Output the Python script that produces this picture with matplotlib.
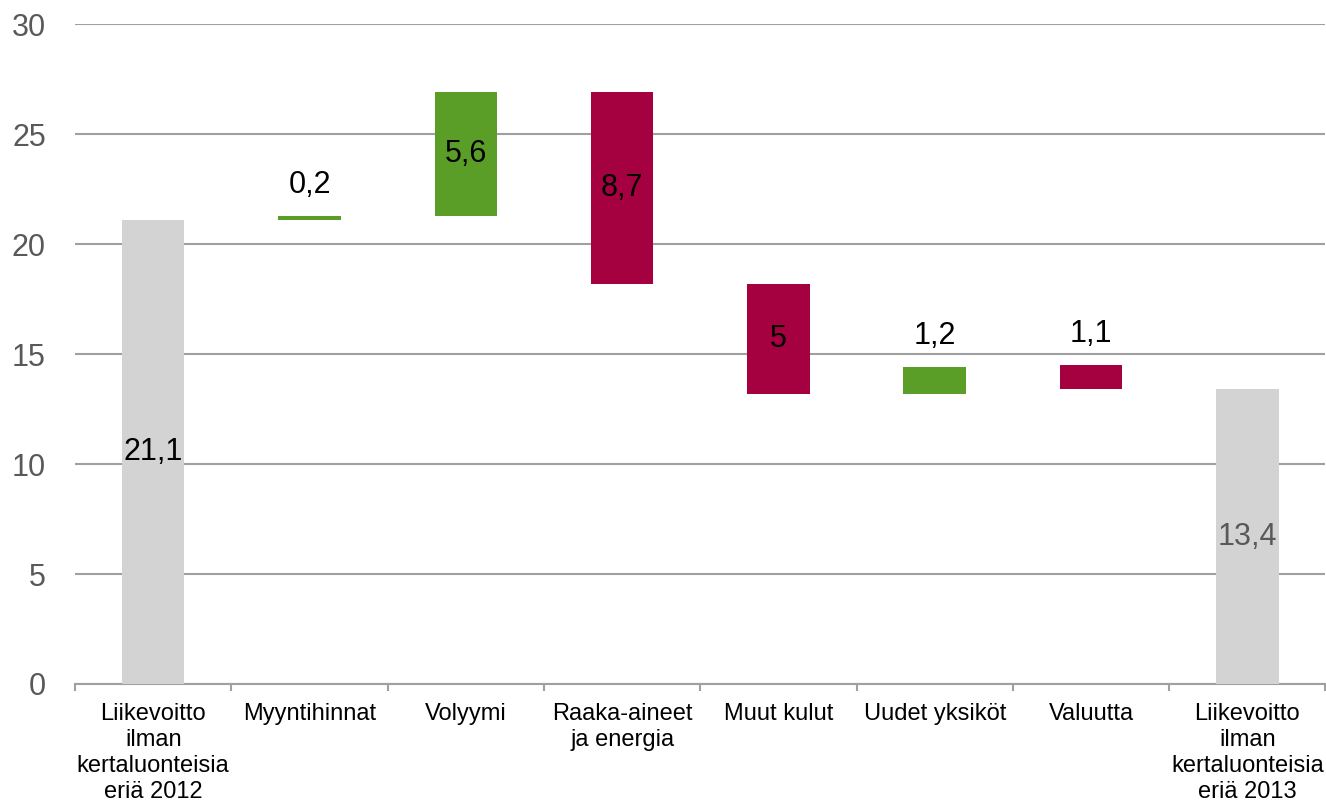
import matplotlib.pyplot as plt
import numpy as np

plt.rcParams['font.family'] = ['Liberation Sans', 'DejaVu Sans']

categories = ["Liikevoitto\nilman\nkertaluonteisia\neriä 2012", "Myyntihinnat", "Volyymi",
              "Raaka-aineet\nja energia", "Muut kulut", "Uudet yksiköt", "Valuutta",
              "Liikevoitto\nilman\nkertaluonteisia\neriä 2013"]
bottoms = [0, 21.1, 21.3, 18.2, 13.2, 13.2, 13.4, 0]
heights = [21.1, 0.2, 5.6, 8.7, 5.0, 1.2, 1.1, 13.4]
labels = ["21,1", "0,2", "5,6", "8,7", "5", "1,2", "1,1", "13,4"]
kinds = ["total", "up", "up", "down", "down", "up", "down", "total"]
label_above = [False, True, False, False, False, True, True, False]

colors = {"total": "#D4D3D4", "up": "#5A9E28", "down": "#A50040"}

fig = plt.figure(figsize=(13.26, 8.06), dpi=100)
ax = fig.add_axes([0.0566, 0.1514, 0.943, 0.8186])

x = np.arange(len(categories))
bars = ax.bar(x, heights, bottom=bottoms, width=0.4,
              color=[colors[k] for k in kinds], zorder=3)

for i in range(len(x)):
    col = "#595959" if i == len(x) - 1 else "black"
    if label_above[i]:
        ax.annotate(labels[i], (x[i], bottoms[i] + heights[i]), xytext=(0, 16.5),
                    textcoords="offset points", ha="center", va="baseline",
                    fontsize=22, color=col)
    else:
        ax.text(x[i], bottoms[i] + heights[i] / 2, labels[i], ha="center", va="center",
                fontsize=22, color=col, zorder=4)

ax.set_xlim(-0.5, len(x) - 0.5)
ax.set_ylim(0, 30)
ax.set_yticks(range(0, 31, 5))
ax.yaxis.grid(True, color="#A0A0A0", linewidth=1.5, zorder=0)
ax.tick_params(axis="y", length=0, labelsize=22, labelcolor="#595959", pad=21)

ax.set_xticks(x)
ax.set_xticklabels(categories, fontsize=17, linespacing=1.22)
ax.set_xticks(np.arange(len(x) + 1) - 0.5, minor=True)
ax.tick_params(axis="x", which="major", length=0, pad=14)
ax.tick_params(axis="x", which="minor", length=5, color="#A0A0A0", width=1.5)

for s in ["top", "right", "left"]:
    ax.spines[s].set_visible(False)
ax.spines["bottom"].set_color("#A0A0A0")
ax.spines["bottom"].set_linewidth(1.5)

fig.savefig("out.png", dpi=100)
